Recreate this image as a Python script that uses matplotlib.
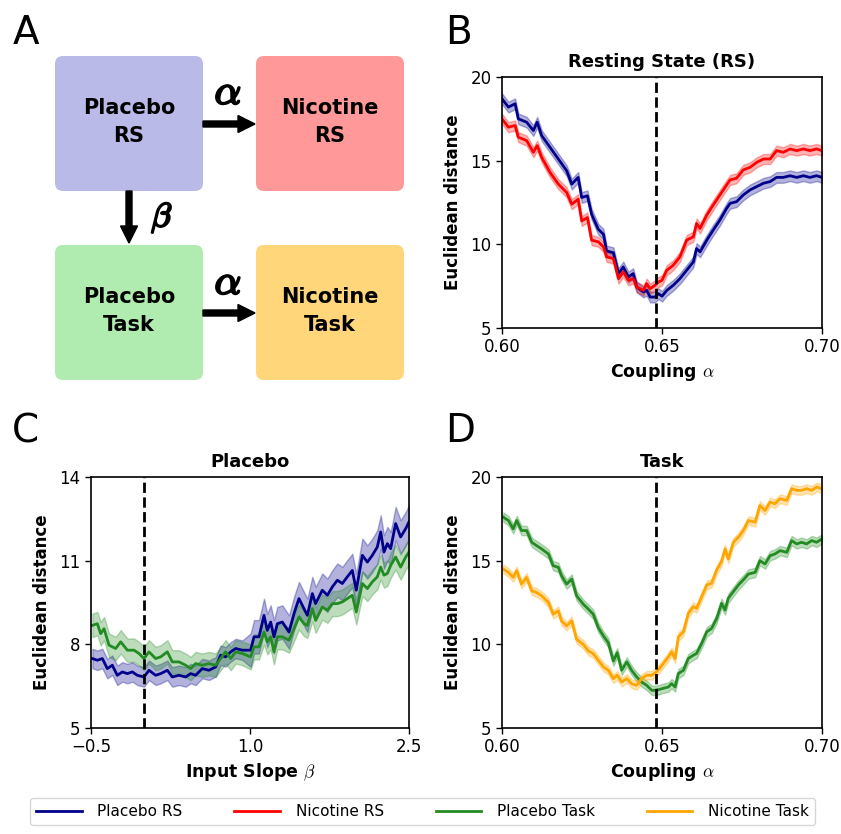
import numpy as np
import matplotlib
matplotlib.use("Agg")
import matplotlib.pyplot as plt
import matplotlib.patheffects as pe
from matplotlib.patches import FancyBboxPatch, FancyArrow
from matplotlib.lines import Line2D
from matplotlib.ticker import FuncFormatter

plt.rcParams['mathtext.fontset'] = 'cm'
plt.rcParams['font.family'] = ['DejaVu Sans']

# ---------------- data ----------------
# panel B : resting state, coupling alpha
alpha_rs = [0.6000, 0.6020, 0.6041, 0.6051, 0.6077, 0.6098, 0.6110, 0.6124, 0.6150,
            0.6176, 0.6202, 0.6218, 0.6238, 0.6249, 0.6267, 0.6280, 0.6301, 0.6317,
            0.6327, 0.6348, 0.6364, 0.6379, 0.6395, 0.6410, 0.6421, 0.6442, 0.6452,
            0.6463, 0.6478, 0.6489, 0.6500, 0.6515, 0.6535, 0.6556, 0.6577, 0.6598,
            0.6608, 0.6619, 0.6640, 0.6660, 0.6681, 0.6702, 0.6713, 0.6733, 0.6754,
            0.6775, 0.6796, 0.6817, 0.6838, 0.6858, 0.6879, 0.6900, 0.6921, 0.6942,
            0.6962, 0.6983, 0.7000]
placebo_rs = [18.7, 18.2, 18.4, 17.5, 17.3, 16.8, 17.3, 16.5, 15.8,
              15.1, 14.4, 13.6, 14.0, 12.8, 12.9, 11.8, 10.9, 10.6,
              9.6, 9.5, 8.25, 8.65, 8.05, 8.25, 7.45, 7.15, 7.25,
              6.85, 6.85, 7.05, 6.9, 7.25, 7.55, 7.95, 8.45, 8.95,
              9.75, 9.55, 10.25, 10.85, 11.45, 12.15, 12.45, 12.55, 12.95,
              13.25, 13.45, 13.65, 13.75, 14.0, 14.0, 14.1, 14.0, 14.1,
              14.0, 14.1, 14.0]
nicotine_rs = [17.5, 17.0, 17.1, 16.4, 16.2, 15.5, 15.9, 15.2, 14.3,
               13.6, 13.1, 12.4, 12.7, 11.4, 11.6, 10.25, 10.15, 9.85,
               9.25, 9.15, 7.95, 8.35, 7.85, 7.95, 7.45, 7.25, 7.65,
               7.35, 7.55, 7.75, 7.85, 8.45, 8.75, 9.25, 10.25, 10.45,
               11.25, 10.95, 11.75, 12.35, 12.95, 13.55, 13.85, 13.95, 14.45,
               14.6, 14.9, 15.1, 15.1, 15.6, 15.5, 15.7, 15.6, 15.7,
               15.6, 15.7, 15.6]
err_placebo_rs = 0.32
err_nicotine_rs = 0.30

# panel C : placebo, input slope beta
beta_rs = [-0.487, -0.440, -0.393, -0.346, -0.299, -0.252, -0.204, -0.157, -0.110,
           -0.063, 0.000, 0.047, 0.110, 0.157, 0.220, 0.267, 0.330, 0.393, 0.440,
           0.487, 0.550, 0.613, 0.676, 0.723, 0.770, 0.818, 0.865, 0.928]
beta_task = [-0.487, -0.440, -0.409, -0.377, -0.330, -0.267, -0.220, -0.157, -0.094,
             -0.047, 0.000, 0.047, 0.110, 0.157, 0.220, 0.267, 0.330, 0.393, 0.440,
             0.487, 0.550, 0.613, 0.676, 0.723, 0.770, 0.818, 0.865, 0.928]
beta_right = [1.006, 1.038, 1.085, 1.132, 1.163, 1.195, 1.226, 1.258, 1.305, 1.368,
              1.415, 1.462, 1.509, 1.541, 1.588, 1.619, 1.682, 1.730, 1.777, 1.824,
              1.871, 1.918, 1.965, 2.003, 2.060, 2.107, 2.154, 2.201, 2.233, 2.264,
              2.296, 2.327, 2.374, 2.421, 2.469, 2.500]
placebo_rs_beta = [7.49, 7.43, 7.49, 7.13, 7.25, 6.89, 7.01, 6.95, 7.01,
                   6.89, 6.83, 7.07, 6.89, 6.95, 7.07, 6.83, 6.89, 6.83, 6.95,
                   6.89, 7.13, 7.07, 7.19, 7.61, 7.55, 7.73, 7.85, 7.79,
                   7.79, 8.27, 8.27, 9.04, 8.50, 8.80, 8.27, 8.74, 8.80, 8.44,
                   9.10, 9.64, 9.28, 9.04, 9.82, 9.46, 9.94, 9.76, 10.06, 10.30,
                   10.18, 10.42, 10.65, 9.94, 11.19, 10.95, 11.19, 11.49, 12.03, 11.31,
                   11.61, 11.43, 12.33, 11.85, 12.15, 12.39]
placebo_task_beta = [8.68, 8.74, 8.38, 8.56, 7.97, 7.85, 8.09, 7.79, 7.79,
                     7.67, 7.49, 7.73, 7.49, 7.55, 7.73, 7.37, 7.37, 7.25, 7.13,
                     7.31, 7.25, 7.31, 7.25, 7.49, 7.73, 7.49, 7.73, 7.67,
                     7.55, 7.91, 7.91, 8.44, 8.09, 8.27, 7.73, 8.27, 8.27, 8.15,
                     8.56, 8.98, 8.74, 8.68, 9.28, 8.86, 9.34, 9.22, 9.46, 9.46,
                     9.52, 9.64, 9.76, 9.16, 10.18, 10.00, 10.24, 10.42, 10.77, 10.48,
                     10.54, 10.83, 11.13, 10.77, 11.13, 11.31]
err_beta_rs = (0.35, 0.6)      # below / above beta = 1
err_beta_task = (0.42, 0.45)

# panel D : task, coupling alpha
alpha_task = [0.6004, 0.6020, 0.6035, 0.6046, 0.6061, 0.6077, 0.6093, 0.6108, 0.6124,
              0.6145, 0.6160, 0.6176, 0.6186, 0.6202, 0.6218, 0.6233, 0.6254, 0.6270,
              0.6285, 0.6301, 0.6317, 0.6332, 0.6348, 0.6360, 0.6374, 0.6390, 0.6405,
              0.6421, 0.6436, 0.6452, 0.6468, 0.6483, 0.6500, 0.6520, 0.6530, 0.6541,
              0.6551, 0.6567, 0.6582, 0.6598, 0.6608, 0.6624, 0.6640, 0.6655, 0.6671,
              0.6686, 0.6697, 0.6707, 0.6723, 0.6739, 0.6754, 0.6770, 0.6791, 0.6806,
              0.6822, 0.6838, 0.6853, 0.6869, 0.6890, 0.6905, 0.6921, 0.6936, 0.6952,
              0.6968, 0.6983, 0.7000]
placebo_task = [17.6, 17.4, 16.9, 17.4, 16.8, 16.8, 16.1, 15.9, 15.7,
                15.4, 14.7, 14.6, 14.1, 13.6, 13.9, 12.9, 12.4, 12.1,
                11.8, 11.0, 10.5, 10.1, 9.0, 9.5, 8.45, 8.95, 8.45,
                8.05, 7.75, 7.55, 7.25, 7.25, 7.35, 7.45, 7.65, 7.45,
                8.25, 8.45, 9.15, 9.35, 9.45, 10.05, 10.75, 10.95, 11.55,
                12.45, 12.05, 12.75, 13.15, 13.55, 13.85, 14.2, 14.3, 15.0,
                14.8, 15.3, 15.4, 15.6, 15.5, 16.2, 16.0, 16.1, 16.0,
                16.2, 16.1, 16.3]
nicotine_task = [14.5, 14.3, 14.0, 14.4, 13.6, 14.0, 13.2, 13.1, 12.9,
                 12.5, 11.8, 12.0, 11.4, 11.1, 11.4, 10.3, 10.0, 9.6,
                 9.45, 9.05, 8.65, 8.45, 7.95, 8.15, 7.75, 7.95, 7.65,
                 7.55, 7.95, 8.15, 8.15, 8.35, 8.75, 9.25, 9.55, 9.15,
                 10.45, 10.75, 11.85, 12.25, 12.15, 12.85, 13.55, 13.65, 14.45,
                 14.95, 15.7, 15.1, 16.1, 16.4, 16.8, 17.4, 17.3, 18.3,
                 18.0, 18.5, 18.4, 18.7, 18.6, 19.3, 19.2, 19.2, 19.3,
                 19.2, 19.4, 19.3]
err_placebo_task = 0.28
err_nicotine_task = 0.26

alpha_opt = 0.648
beta_opt = 0.0

names = ['Placebo RS', 'Nicotine RS', 'Placebo Task', 'Nicotine Task']
colors = ['darkblue', 'red', 'forestgreen', 'orange']
box_colors = ['#babae8', '#ff9999', '#b0ebb0', '#ffd67a']

# ---------------- figure ----------------
W, H = 841, 834
fig = plt.figure(figsize=(W / 100, H / 100), dpi=100)


def ax_px(l, t, r, b):
    return fig.add_axes([l / W, 1 - b / H, (r - l) / W, (b - t) / H])


def band(ax, x, y, e, c):
    x = np.asarray(x)
    y = np.asarray(y)
    ax.fill_between(x, y - e, y + e, color=c, alpha=0.3)
    ax.plot(x, y, color=c, lw=2)


def fmt(nd):
    return FuncFormatter(lambda v, p: f'{v:.{nd}f}'.replace('-', '\u2212'))


def style(ax, title, xlabel):
    ax.set_title(title, fontsize=13, fontweight='bold', pad=7)
    ax.set_xlabel(xlabel, fontsize=12.5, fontweight='bold', labelpad=3)
    ax.set_ylabel('Euclidean distance', fontsize=12, fontweight='bold', labelpad=6)
    ax.tick_params(labelsize=12, length=4, width=1)
    for s in ax.spines.values():
        s.set_linewidth(1.2)


# panel A: schematic
axA = ax_px(0, 0, 420, 400)
axA.set_xlim(0, 420)
axA.set_ylim(400, 0)
axA.axis('off')
boxes = [(55, 56, 'Placebo\nRS'), (256, 56, 'Nicotine\nRS'),
         (55, 245, 'Placebo\nTask'), (256, 245, 'Nicotine\nTask')]
for (bx, by, txt), bc in zip(boxes, box_colors):
    axA.add_patch(FancyBboxPatch((bx + 8, by + 8), 148 - 16, 135 - 16,
                                 boxstyle='round,pad=8', fc=bc, ec='none'))
    axA.text(bx + 74, by + 66, txt, ha='center', va='center', fontsize=15,
             fontweight='bold', linespacing=1.55)
for x0, y0, dx, dy in [(203, 124, 52, 0), (203, 313, 52, 0), (129, 191, 0, 52)]:
    axA.add_patch(FancyArrow(x0, y0, dx, dy, width=6, head_width=17, head_length=17,
                             length_includes_head=True, color='black'))
bold = [pe.withStroke(linewidth=1.6, foreground='black')]
axA.text(228, 92, r'$\alpha$', fontsize=30, ha='center', va='center', path_effects=bold)
axA.text(228, 282, r'$\alpha$', fontsize=30, ha='center', va='center', path_effects=bold)
axA.text(162, 218, r'$\beta$', fontsize=24, ha='center', va='center', path_effects=bold)

# panel B
axB = ax_px(502, 77, 822, 328)
band(axB, alpha_rs, placebo_rs, err_placebo_rs, colors[0])
band(axB, alpha_rs, nicotine_rs, err_nicotine_rs, colors[1])
axB.axvline(alpha_opt, color='black', ls='--', lw=2)
axB.set_xlim(0.60, 0.70)
axB.set_ylim(5, 20)
axB.set_xticks([0.60, 0.65, 0.70])
axB.set_yticks([5, 10, 15, 20])
axB.xaxis.set_major_formatter(fmt(2))
style(axB, 'Resting State (RS)', r'Coupling $\alpha$')

# panel C
axC = ax_px(91, 477, 409, 728)
xb_rs = np.array(beta_rs + beta_right)
xb_task = np.array(beta_task + beta_right)
e_rs = np.where(xb_rs < 1.0, err_beta_rs[0], err_beta_rs[1])
e_task = np.where(xb_task < 1.0, err_beta_task[0], err_beta_task[1])
band(axC, xb_rs, placebo_rs_beta, e_rs, colors[0])
band(axC, xb_task, placebo_task_beta, e_task, colors[2])
axC.axvline(beta_opt, color='black', ls='--', lw=2)
axC.set_xlim(-0.5, 2.5)
axC.set_ylim(5, 14)
axC.set_xticks([-0.5, 1.0, 2.5])
axC.set_yticks([5, 8, 11, 14])
axC.xaxis.set_major_formatter(fmt(1))
style(axC, 'Placebo', r'Input Slope $\beta$')

# panel D
axD = ax_px(502, 477, 822, 728)
band(axD, alpha_task, placebo_task, err_placebo_task, colors[2])
band(axD, alpha_task, nicotine_task, err_nicotine_task, colors[3])
axD.axvline(alpha_opt, color='black', ls='--', lw=2)
axD.set_xlim(0.60, 0.70)
axD.set_ylim(5, 20)
axD.set_xticks([0.60, 0.65, 0.70])
axD.set_yticks([5, 10, 15, 20])
axD.xaxis.set_major_formatter(fmt(2))
style(axD, 'Task', r'Coupling $\alpha$')

# panel letters
for lab, x, y in [('A', 13, 14), ('B', 445, 14), ('C', 12, 412), ('D', 445, 412)]:
    fig.text(x / W, 1 - y / H, lab, fontsize=28, ha='left', va='top')

# legend
handles = [Line2D([], [], color=c, lw=2) for c in colors]
fig.legend(handles, names, ncol=4, loc='upper left', bbox_to_anchor=(30 / W, 1 - 798 / H),
           borderaxespad=0, fontsize=11, handlelength=3, handletextpad=1.0,
           columnspacing=3.4, frameon=True, edgecolor='#cccccc')

fig.savefig('out.png', dpi=100)
